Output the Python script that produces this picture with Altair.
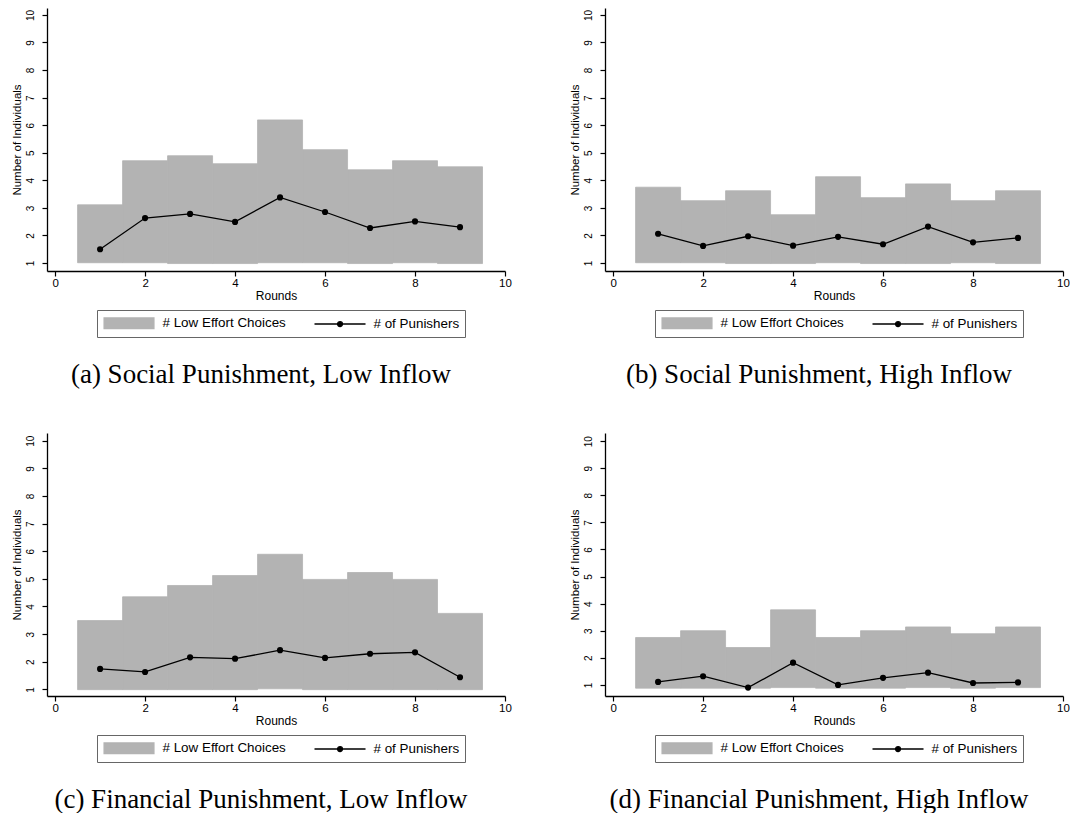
import altair as alt
import pandas as pd

rounds = [1, 2, 3, 4, 5, 6, 7, 8, 9]
LOW = "# Low Effort Choices"
PUN = "# of Punishers"

captions = [
    "(a) Social Punishment, Low Inflow",
    "(b) Social Punishment, High Inflow",
    "(c) Financial Punishment, Low Inflow",
    "(d) Financial Punishment, High Inflow",
]

a_hi = [3.11, 4.71, 4.89, 4.60, 6.19, 5.11, 4.38, 4.71, 4.49]
a_lo = [1.01, 1.01, 0.98, 0.98, 1.01, 1.01, 0.98, 1.01, 0.98]
a_pun = [1.50, 2.63, 2.78, 2.49, 3.38, 2.85, 2.27, 2.51, 2.30]

b_hi = [3.75, 3.26, 3.62, 2.75, 4.13, 3.37, 3.87, 3.26, 3.62]
b_lo = [1.01, 1.01, 0.98, 0.98, 1.01, 0.98, 0.98, 1.01, 0.98]
b_pun = [2.06, 1.62, 1.97, 1.63, 1.95, 1.68, 2.32, 1.75, 1.91]

c_hi = [3.49, 4.35, 4.76, 5.12, 5.89, 4.98, 5.23, 4.98, 3.75]
c_lo = [0.99, 0.99, 0.99, 0.99, 1.02, 0.99, 0.99, 0.99, 0.99]
c_pun = [1.74, 1.63, 2.16, 2.11, 2.42, 2.14, 2.29, 2.34, 1.44]

d_hi = [2.75, 3.00, 2.38, 3.77, 2.75, 3.00, 3.14, 2.89, 3.14]
d_lo = [0.88, 0.88, 0.88, 0.90, 0.88, 0.88, 0.90, 0.88, 0.90]
d_pun = [1.11, 1.32, 0.90, 1.82, 1.00, 1.26, 1.45, 1.07, 1.09]

y_domains = [[0.71, 10.25], [0.71, 10.25], [0.76, 10.28], [0.59, 10.3]]
x_ticks = [0, 2, 4, 6, 8, 10]
y_ticks = [1, 2, 3, 4, 5, 6, 7, 8, 9, 10]

GRAY = "#b3b3b3"
SANS = "Liberation Sans"
SERIF = "Liberation Serif"
W, H = 458, 263

RECT_PATH = "M-0.9,-0.8H6.75V0.8H-0.9Z"
LINE_PATH = ("M-1,0H6.85M3.3,0A0.37,0.37,0,1,1,2.56,0"
             "A0.37,0.37,0,1,1,3.3,0Z")


def make_legend():
    return alt.Legend(
        title=None, orient="none", legendX=50, legendY=302,
        direction="horizontal", symbolSize=169, symbolStrokeWidth=1.4,
        symbolOpacity=1,
        labelFont=SANS, labelFontSize=13.4, labelColor="black",
        labelOffset=45, columnPadding=25, padding=5.5,
        strokeColor="#666666", fillColor="white",
    )


def panel(lo, hi, pun, ydom, caption, dx):
    bars_df = pd.DataFrame({"round": rounds, "lo": lo, "hi": hi, "series": LOW})
    line_df = pd.DataFrame({"round": rounds, "pun": pun})

    xscale = alt.Scale(domain=[-0.18, 10], nice=False, zero=False)
    yscale = alt.Scale(domain=ydom, nice=False, zero=False)
    xaxis = alt.Axis(values=x_ticks, tickCount=len(x_ticks), title="Rounds", format="d",
                     labelOverlap=False, labelFlush=False)
    yaxis = alt.Axis(values=y_ticks, tickCount=len(y_ticks), title="Number of Individuals",
                     format="d", labelOverlap=False, labelFlush=False,
                     labelAngle=270, labelAlign="center", labelBaseline="bottom",
                     labelPadding=7, labelFontSize=10)
    dom = [LOW, PUN]

    bars = alt.Chart(bars_df).transform_calculate(
        x0="datum.round - 0.5", x1="datum.round + 0.5"
    ).mark_rect(strokeWidth=0.8).encode(
        x=alt.X("x0:Q", scale=xscale, axis=xaxis),
        x2="x1:Q",
        y=alt.Y("lo:Q", scale=yscale, axis=yaxis),
        y2="hi:Q",
        fill=alt.Fill("series:N", scale=alt.Scale(domain=dom, range=[GRAY, "black"]),
                      legend=make_legend()),
        stroke=alt.Stroke("series:N", scale=alt.Scale(domain=dom, range=[GRAY, "black"]),
                          legend=make_legend()),
    )
    # invisible helper layer that only carries the legend symbol shapes
    keys = alt.Chart(bars_df).mark_point(opacity=0).encode(
        x=alt.X("round:Q", scale=xscale),
        y=alt.Y("lo:Q", scale=yscale),
        shape=alt.Shape("series:N", scale=alt.Scale(domain=dom, range=[RECT_PATH, LINE_PATH]),
                        legend=make_legend()),
    )
    line = alt.Chart(line_df).mark_line(color="black", strokeWidth=1.3).encode(
        x=alt.X("round:Q", scale=xscale), y=alt.Y("pun:Q", scale=yscale)
    )
    pts = alt.Chart(line_df).mark_point(filled=True, size=38, color="black", opacity=1).encode(
        x=alt.X("round:Q", scale=xscale), y=alt.Y("pun:Q", scale=yscale)
    )
    return alt.layer(bars, keys, line, pts).properties(
        width=W, height=H,
        title=alt.TitleParams(
            text=caption, orient="bottom", anchor="middle", frame="group",
            font=SERIF, fontSize=27, fontWeight="normal", color="black",
            offset=24, dx=dx,
        ),
    )


pa = panel(a_lo, a_hi, a_pun, y_domains[0], captions[0], -15)
pb = panel(b_lo, b_hi, b_pun, y_domains[1], captions[1], -15)
pc = panel(c_lo, c_hi, c_pun, y_domains[2], captions[2], -15)
pd_ = panel(d_lo, d_hi, d_pun, y_domains[3], captions[3], -15)

IND = dict(fill="independent", stroke="independent", shape="independent")

chart = alt.vconcat(
    alt.hconcat(pa, pb, spacing=56).resolve_scale(**IND).resolve_legend(**IND),
    alt.hconcat(pc, pd_, spacing=56).resolve_scale(**IND).resolve_legend(**IND),
    spacing=45,
).resolve_scale(**IND).resolve_legend(**IND).properties(
    padding={"left": 2, "top": 0, "right": 0, "bottom": 0},
    background="white",
).configure_view(stroke=None).configure_axis(
    grid=False, domainColor="black", domainWidth=1.3, tickColor="black",
    tickWidth=1.2, tickSize=5, labelFont=SANS, titleFont=SANS,
    labelColor="black", titleColor="black", titleFontWeight="normal",
).configure_axisX(
    labelFontSize=11.5, labelPadding=1.5, titleFontSize=12, titlePadding=1,
).configure_axisY(
    titleFontSize=11.5, titlePadding=3,
)

chart.save("out.html", embed_options={"renderer": "svg", "actions": False})
